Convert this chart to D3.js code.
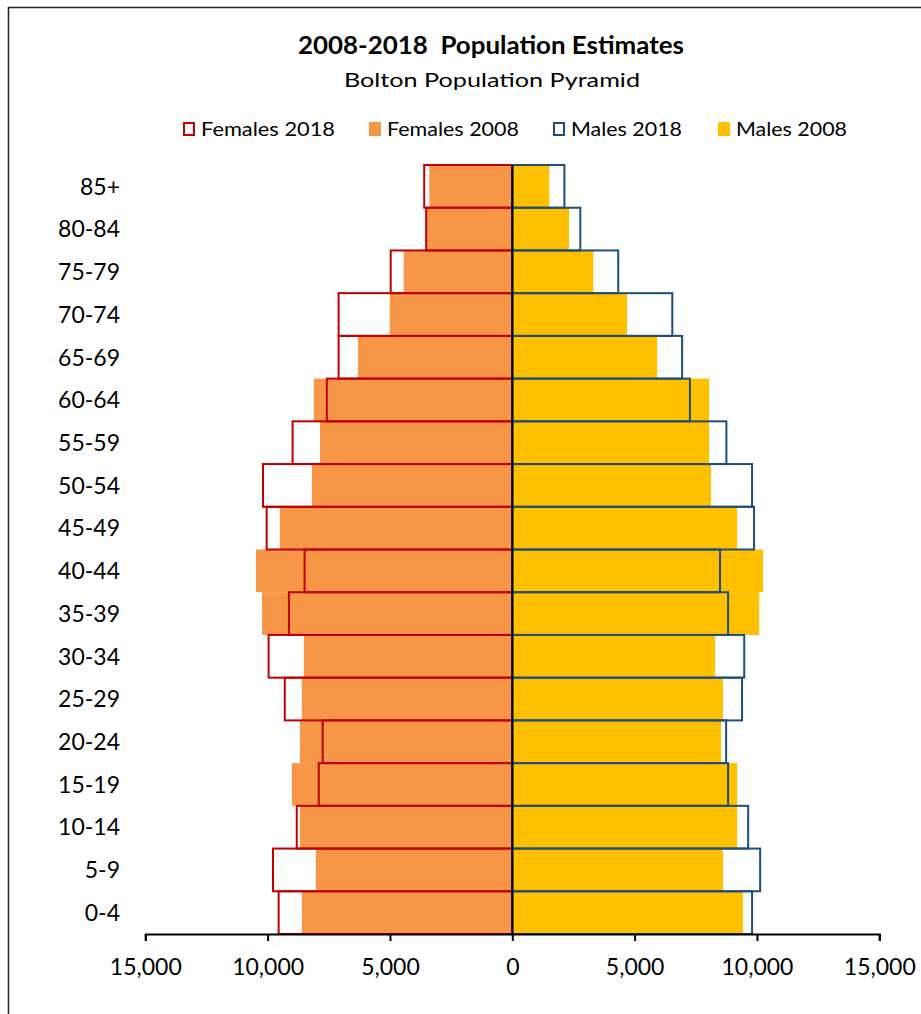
<!DOCTYPE html>
<html>
<head>
<meta charset="utf-8">
<script src="https://cdn.jsdelivr.net/npm/d3@7"></script>
<style>
  body { margin: 0; background: #fff; }
  text { font-family: Lato, "Open Sans", sans-serif; fill: #000; }
</style>
</head>
<body>
<div id="chart"></div>
<script>
// Age bands, youngest first
const ages = ["0-4", "5-9", "10-14", "15-19", "20-24", "25-29", "30-34", "35-39", "40-44",
              "45-49", "50-54", "55-59", "60-64", "65-69", "70-74", "75-79", "80-84", "85+"];

// Population estimates
const females2018 = [9550, 9780, 8810, 7910, 7750, 9300, 9960, 9130, 8490, 10040, 10190, 8980, 7580, 7100, 7100, 4970, 3520, 3600];
const females2008 = [8600, 8030, 8680, 9010, 8680, 8600, 8520, 10230, 10480, 9500, 8190, 7860, 8110, 6310, 5010, 4440, 3490, 3390];
const males2018   = [9800, 10130, 9640, 8820, 8740, 9390, 9480, 8820, 8490, 9880, 9800, 8750, 7260, 6940, 6540, 4330, 2780, 2130];
const males2008   = [9430, 8610, 9190, 9190, 8530, 8610, 8290, 10090, 10250, 9190, 8120, 8040, 8040, 5920, 4690, 3310, 2320, 1510];

const tickValues = [-15000, -10000, -5000, 0, 5000, 10000, 15000];

const legendItems = [
  { label: "Females 2018", fill: "none", stroke: "#C00000" },
  { label: "Females 2008", fill: "#F79646", stroke: "none" },
  { label: "Males 2018", fill: "none", stroke: "#1F4E79" },
  { label: "Males 2008", fill: "#FFC000", stroke: "none" }
];

const width = 921;
const height = 1014;

const svg = d3.select("#chart")
  .append("svg")
  .attr("width", width)
  .attr("height", height);

// chart frame
svg.append("rect")
  .attr("x", 8.5).attr("y", 7.5)
  .attr("width", 940).attr("height", 1040)
  .attr("fill", "none")
  .attr("stroke", "#222")
  .attr("stroke-width", 1.5);

// scales
const x = d3.scaleLinear()
  .domain([-15000, 15000])
  .range([145.3, 879.3]);

const y = d3.scaleBand()
  .domain(ages.slice().reverse())
  .range([165, 934])
  .padding(0);

const rows = ages.map((age, i) => ({
  age,
  f18: females2018[i], f08: females2008[i],
  m18: males2018[i], m08: males2008[i]
}));

// 2008 filled bars
svg.append("g").selectAll("rect")
  .data(rows).join("rect")
  .attr("x", d => x(-d.f08))
  .attr("y", d => y(d.age))
  .attr("width", d => x(0) - x(-d.f08))
  .attr("height", y.bandwidth())
  .attr("fill", "#F79646");

svg.append("g").selectAll("rect")
  .data(rows).join("rect")
  .attr("x", x(0))
  .attr("y", d => y(d.age))
  .attr("width", d => x(d.m08) - x(0))
  .attr("height", y.bandwidth())
  .attr("fill", "#FFC000");

// 2018 outline bars
svg.append("g").selectAll("rect")
  .data(rows).join("rect")
  .attr("x", d => x(-d.f18))
  .attr("y", d => y(d.age))
  .attr("width", d => x(0) - x(-d.f18))
  .attr("height", y.bandwidth())
  .attr("fill", "none")
  .attr("stroke", "#C00000")
  .attr("stroke-width", 2);

svg.append("g").selectAll("rect")
  .data(rows).join("rect")
  .attr("x", x(0))
  .attr("y", d => y(d.age))
  .attr("width", d => x(d.m18) - x(0))
  .attr("height", y.bandwidth())
  .attr("fill", "none")
  .attr("stroke", "#1F4E79")
  .attr("stroke-width", 2);

// x axis
const xAxis = svg.append("g")
  .attr("transform", `translate(0,${934})`)
  .call(d3.axisBottom(x)
    .tickValues(tickValues)
    .tickSize(7)
    .tickPadding(18)
    .tickFormat(d => d3.format(",")(Math.abs(d))));
xAxis.select(".domain").attr("stroke", "#000").attr("stroke-width", 2);
xAxis.selectAll(".tick line").attr("stroke", "#000").attr("stroke-width", 2);
xAxis.selectAll(".tick text")
  .attr("font-family", "Lato, sans-serif")
  .attr("font-size", 23)
  .attr("fill", "#000");

// y axis (centre line) with age labels on the left
svg.append("line")
  .attr("x1", x(0)).attr("x2", x(0))
  .attr("y1", 165).attr("y2", 934)
  .attr("stroke", "#000")
  .attr("stroke-width", 2);

svg.append("g").selectAll("text")
  .data(ages).join("text")
  .attr("x", 120)
  .attr("y", d => y(d) + y.bandwidth() / 2)
  .attr("dy", "0.36em")
  .attr("text-anchor", "end")
  .attr("font-size", 23)
  .text(d => d);

// titles
svg.append("text")
  .attr("x", 491).attr("y", 54)
  .attr("text-anchor", "middle")
  .attr("font-size", 24)
  .attr("font-weight", "bold")
  .attr("xml:space", "preserve")
  .attr("textLength", 386)
  .attr("lengthAdjust", "spacingAndGlyphs")
  .text("2008-2018  Population Estimates");

svg.append("text")
  .attr("x", 492).attr("y", 87)
  .attr("text-anchor", "middle")
  .attr("font-size", 20)
  .attr("textLength", 296)
  .attr("lengthAdjust", "spacingAndGlyphs")
  .text("Bolton Population Pyramid");

// legend
const legendX = [183, 369, 553, 718];
const legendW = [134, 132, 111, 111];
const legend = svg.append("g");
legendItems.forEach((item, i) => {
  const g = legend.append("g").attr("transform", `translate(${legendX[i]},0)`);
  if (item.fill === "none") {
    g.append("rect").attr("x", 1).attr("y", 123).attr("width", 10).attr("height", 12)
      .attr("fill", "none").attr("stroke", item.stroke).attr("stroke-width", 2);
  } else {
    g.append("rect").attr("x", 0).attr("y", 122).attr("width", 12).attr("height", 14)
      .attr("fill", item.fill);
  }
  g.append("text").attr("x", 18).attr("y", 136)
    .attr("font-size", 20)
    .attr("textLength", legendW[i])
    .attr("lengthAdjust", "spacingAndGlyphs")
    .text(item.label);
});
</script>
</body>
</html>
